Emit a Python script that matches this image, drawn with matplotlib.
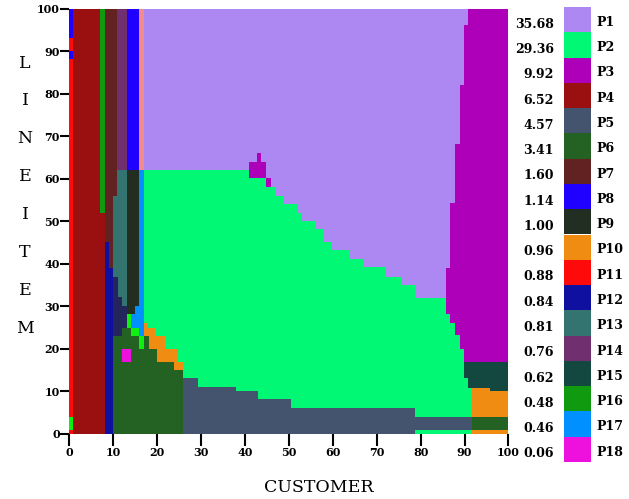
import numpy as np
import matplotlib.pyplot as plt

# legend: plans and their share
plans = ['P1', 'P2', 'P3', 'P4', 'P5', 'P6', 'P7', 'P8', 'P9',
         'P10', 'P11', 'P12', 'P13', 'P14', 'P15', 'P16', 'P17', 'P18']
plan_share = [35.68, 29.36, 9.92, 6.52, 4.57, 3.41, 1.60, 1.14, 1.00,
              0.96, 0.88, 0.84, 0.81, 0.76, 0.62, 0.48, 0.46, 0.06]
plan_colors = ['#ae88f2', '#00f874', '#ae00b8', '#9a1010', '#44546f', '#246224',
               '#622222', '#2000ff', '#222e22', '#f08c12', '#ff0a0a', '#1010a0',
               '#347470', '#703070', '#124840', '#109a10', '#0090ff', '#ee10dd']
# small plans that are not listed in the legend
extra_colors = {'Q1': '#f08c8c', 'Q2': '#25255e', 'Q3': '#10f010'}

# P2 region: column edges (customer) and top (lineitem)
p2_edges = [16.9, 40.8, 44.8, 46.9, 48.8, 51.8, 53.0, 55.9, 57.9, 59.9,
            64.0, 66.9, 71.8, 75.8, 79.0, 91.7]
p2_top = [62.1, 60.2, 58.2, 56.1, 54.1, 52.1, 50.1, 48.2, 45.1, 43.3,
          41.1, 39.2, 37.0, 35.1, 32.1]

# P3 region: row edges (lineitem) and left border (customer)
p3_edges = [17.0, 20.0, 23.3, 26.0, 28.2, 39.1, 54.3, 68.2, 82.1, 96.2, 100]
p3_left = [89.8, 88.9, 87.9, 86.8, 85.8, 86.8, 87.9, 88.9, 89.8, 90.8]

# P5 region along the bottom
p5_edges = [25.8, 29.4, 38.0, 42.9, 50.4, 78.8, 91.7]
p5_top = [13.1, 11.0, 10.0, 8.2, 6.0, 4.1]
p5_bottom = [0, 0, 0, 0, 0, 0.94]

# P6 region, lower left
p6_edges = [10.0, 11.9, 14.0, 18.2, 20.0, 23.9, 25.8]
p6_top = [23.1, 25.0, 23.1, 20.0, 16.9, 15.1]

# smaller blocks: (plan, customer from, customer to, lineitem from, lineitem to)
p3_bump = [('P3', 40.8, 44.8, 60.2, 64.1),
           ('P3', 42.8, 43.7, 64.1, 66.2),
           ('P3', 44.8, 45.9, 58.2, 60.2)]

left_blocks = [
    ('P11', 0.0, 0.9, 0, 100),
    ('P8', 0.0, 0.9, 93.2, 100),
    ('P8', 0.0, 0.9, 88.2, 90.1),
    ('Q3', 0.0, 0.9, 0.94, 4.1),
    ('P4', 0.9, 8.1, 0, 100),
    ('P16', 7.0, 8.1, 52.0, 100),
    ('P7', 8.1, 10.9, 39.1, 100),
    ('P12', 8.1, 9.1, 0, 45.1),
    ('P12', 9.1, 10.0, 0, 39.1),
    ('P14', 10.9, 13.1, 62.1, 100),
    ('P8', 13.1, 15.9, 62.1, 100),
    ('Q1', 15.9, 16.9, 62.1, 100),
    ('P13', 10.0, 10.9, 37.0, 56.0),
    ('P13', 10.9, 11.9, 32.3, 62.1),
    ('P13', 11.9, 13.1, 30.1, 62.1),
    ('Q2', 10.0, 11.0, 23.1, 37.0),
    ('Q2', 11.0, 11.9, 23.1, 32.3),
    ('Q2', 11.9, 13.1, 25.0, 30.1),
    ('P9', 13.1, 15.0, 28.2, 62.1),
    ('P9', 15.0, 15.9, 30.1, 62.1),
    ('P17', 14.0, 15.0, 25.0, 28.2),
    ('P17', 15.0, 15.9, 25.0, 30.1),
    ('P17', 15.9, 16.9, 23.1, 62.1),
    ('Q3', 13.1, 14.0, 25.0, 28.2),
    ('Q3', 14.0, 15.9, 23.1, 25.0),
    ('Q3', 15.9, 16.9, 20.0, 23.1),
    ('P18', 11.9, 14.0, 17.0, 20.0),
    ('P10', 16.9, 18.0, 23.1, 26.0),
    ('P10', 18.0, 19.5, 23.1, 25.0),
    ('P10', 18.2, 21.8, 20.0, 23.1),
    ('P10', 20.0, 24.8, 16.9, 20.0),
    ('P10', 23.9, 25.8, 15.1, 16.9),
]

right_blocks = [
    ('P10', 91.7, 100, 0, 10.9),
    ('P6', 91.7, 100, 0.94, 4.1),
    ('P15', 89.8, 100, 13.1, 17.0),
    ('P15', 90.8, 100, 10.9, 13.1),
    ('P15', 95.8, 100, 10.1, 10.9),
]

color_of = dict(zip(plans, plan_colors))
color_of.update(extra_colors)

fig = plt.figure(figsize=(6.29, 4.99), dpi=100)
ax = fig.add_axes([0.1103, 0.1303, 0.698, 0.8517])

kw = dict(align='edge', linewidth=0, antialiased=False)

# background plan
ax.bar(0, 100, width=100, color=color_of['P1'], **kw)

e = np.array(p2_edges)
ax.bar(e[:-1], p2_top, width=np.diff(e), color=color_of['P2'], **kw)

e = np.array(p3_edges)
left = np.array(p3_left)
ax.barh(e[:-1], 100 - left, height=np.diff(e), left=left, color=color_of['P3'], **kw)

e = np.array(p5_edges)
ax.bar(e[:-1], np.array(p5_top) - np.array(p5_bottom), width=np.diff(e),
       bottom=p5_bottom, color=color_of['P5'], **kw)

e = np.array(p6_edges)
ax.bar(e[:-1], p6_top, width=np.diff(e), color=color_of['P6'], **kw)

for name, x0, x1, y0, y1 in p3_bump + left_blocks + right_blocks:
    ax.bar(x0, y1 - y0, width=x1 - x0, bottom=y0, color=color_of[name], **kw)

ax.set_xlim(0, 100)
ax.set_ylim(0, 100)
ax.set_xticks(range(0, 101, 10))
ax.set_yticks(range(0, 101, 10))
for s in ax.spines.values():
    s.set_visible(False)
tick_font = dict(family='DejaVu Serif', weight='bold', size=8)
ax.tick_params(axis='x', length=8.5, width=1.5, pad=1)
ax.tick_params(axis='y', length=6.5, width=1.5, pad=0.5)
for lab in ax.get_xticklabels() + ax.get_yticklabels():
    lab.set(**tick_font)

fig.text(319 / 629, 1 - 487.5 / 499, 'CUSTOMER', family='DejaVu Serif',
         size=12.5, ha='center', va='center')
for i, ch in enumerate('LINEITEM'):
    fig.text(25 / 629, 1 - (63 + 37.9 * i) / 499, ch, family='DejaVu Serif',
             size=12.5, ha='center', va='center')

# legend column
lax = fig.add_axes([564.3 / 629, 37 / 499, 26.4 / 629, 455 / 499])
n = len(plans)
lax.barh(np.arange(n), 1, height=1, color=plan_colors, **kw)
lax.set_xlim(0, 1)
lax.set_ylim(n, 0)
lax.set_xticks([])
lax.set_yticks(np.arange(n) + 0.62, [f'{v:.2f}' for v in plan_share])
lax.tick_params(axis='y', length=0, pad=7.5)
rax = lax.twinx()
rax.set_ylim(n, 0)
rax.set_yticks(np.arange(n) + 0.55, plans)
rax.tick_params(axis='y', length=0, pad=4)
for a in (lax, rax):
    for s in a.spines.values():
        s.set_visible(False)
legend_font = dict(tick_font, size=9)
for lab in lax.get_yticklabels() + rax.get_yticklabels():
    lab.set(**legend_font)

fig.savefig('out.png', dpi=100)
